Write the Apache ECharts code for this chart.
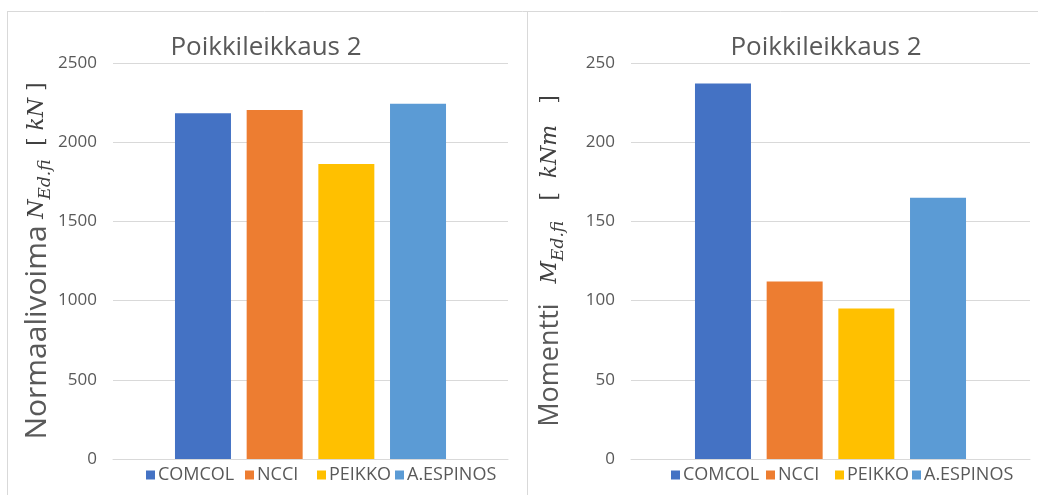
<!DOCTYPE html>
<html>
<head>
<meta charset="utf-8">
<script src="https://cdn.jsdelivr.net/npm/echarts@6/dist/echarts.min.js"></script>
<style>
  html, body { margin: 0; padding: 0; background: #ffffff; }
  #chart { width: 1038px; height: 495px; }
</style>
</head>
<body>
<div id="chart"></div>
<script>
// Cross-section 2: design axis force and bending moment by method
const chartTitle = 'Poikkileikkaus 2';
const methods = ['COMCOL', 'NCCI', 'PEIKKO', 'A.ESPINOS'];
const normalForce = [2182, 2203, 1862, 2243];   // N_Ed.fi [kN]
const moment = [237, 112, 95, 165];             // M_Ed.fi [kNm]
const forceTicks = [0, 500, 1000, 1500, 2000, 2500];
const momentTicks = [0, 50, 100, 150, 200, 250];

const palette = ['#4472C4', '#ED7D31', '#FFC000', '#5B9BD5'];
const grey = '#595959';
const lineGrey = '#d9d9d9';
const sansFont = '"Open Sans", sans-serif';
const mathFont = '"DejaVu Serif", serif';

// legend entry positions (left edge of each marker) for the two panels
const legendLeftPanel = [146, 245, 317, 395];
const legendRightPanel = [671, 766, 835, 912];

function nameRich(labelSize) {
  return {
    t: { fontFamily: sansFont, fontSize: labelSize, color: grey, lineHeight: 34, verticalAlign: 'middle' },
    m: { fontFamily: mathFont, fontStyle: 'italic', fontSize: 22, color: '#404040', lineHeight: 34, verticalAlign: 'middle' },
    s: { fontFamily: mathFont, fontStyle: 'italic', fontSize: 17, color: '#404040', lineHeight: 18, verticalAlign: 'bottom' },
    b: { fontFamily: mathFont, fontSize: 22, color: '#404040', lineHeight: 34, verticalAlign: 'middle' }
  };
}

function valueAxis(gridIndex, ticks, name, nameGap, labelSize) {
  return {
    type: 'value',
    gridIndex: gridIndex,
    min: ticks[0],
    max: ticks[ticks.length - 1],
    interval: ticks[1] - ticks[0],
    axisLine: { show: false },
    axisTick: { show: false },
    axisLabel: { color: grey, fontFamily: sansFont, fontSize: 17, margin: 16, formatter: v => String(v) },
    splitLine: { lineStyle: { color: lineGrey, width: 1 } },
    name: name,
    nameLocation: 'middle',
    nameRotate: 90,
    nameGap: nameGap,
    nameTextStyle: { fontSize: 12, rich: nameRich(labelSize) }
  };
}

function barSeries(values, gridIndex) {
  return methods.map((m, i) => ({
    type: 'bar',
    name: m,
    xAxisIndex: gridIndex,
    yAxisIndex: gridIndex,
    barWidth: 56,
    barGap: '28%',
    itemStyle: { color: palette[i] },
    data: [values[i]]
  }));
}

function legends(positions) {
  return methods.map((m, i) => ({
    data: [m],
    left: positions[i],
    top: 466,
    padding: 0,
    itemWidth: 9,
    itemHeight: 9,
    icon: 'rect',
    textStyle: { color: grey, fontFamily: sansFont, fontSize: 18, padding: [0, 0, 0, -2] }
  }));
}

const chart = echarts.init(document.getElementById('chart'), null, { renderer: 'canvas' });

chart.setOption({
  backgroundColor: '#ffffff',
  animation: false,
  title: [
    { text: chartTitle, left: 266, top: 35, textAlign: 'center', padding: 0,
      textStyle: { color: grey, fontFamily: sansFont, fontSize: 26, fontWeight: 'normal' } },
    { text: chartTitle, left: 826, top: 35, textAlign: 'center', padding: 0,
      textStyle: { color: grey, fontFamily: sansFont, fontSize: 26, fontWeight: 'normal' } }
  ],
  legend: legends(legendLeftPanel).concat(legends(legendRightPanel)),
  grid: [
    { left: 113, right: 530, top: 63, bottom: 36 },
    { left: 631, right: 8, top: 63, bottom: 36 }
  ],
  xAxis: [0, 1].map(g => ({
    type: 'category',
    gridIndex: g,
    data: [chartTitle],
    axisLine: { lineStyle: { color: lineGrey } },
    axisTick: { show: false },
    axisLabel: { show: false }
  })),
  yAxis: [
    valueAxis(0, forceTicks, '{t|Normaalivoima}  {m|N}{s|Ed.fi}    {b|[ }{m|kN}{b| ]}', 58, 30),
    valueAxis(1, momentTicks, '{t|Momentti}      {m|M}{s|Ed.fi}      {b|[  }{m|kNm}{b|   ]}', 64, 27)
  ],
  series: barSeries(normalForce, 0).concat(barSeries(moment, 1)),
  graphic: [
    { type: 'line', shape: { x1: 7, y1: 11.5, x2: 1038, y2: 11.5 }, style: { stroke: lineGrey, lineWidth: 1 }, silent: true },
    { type: 'line', shape: { x1: 7.5, y1: 11, x2: 7.5, y2: 495 }, style: { stroke: lineGrey, lineWidth: 1 }, silent: true },
    { type: 'line', shape: { x1: 527.5, y1: 11, x2: 527.5, y2: 495 }, style: { stroke: lineGrey, lineWidth: 1 }, silent: true }
  ]
});
</script>
</body>
</html>
